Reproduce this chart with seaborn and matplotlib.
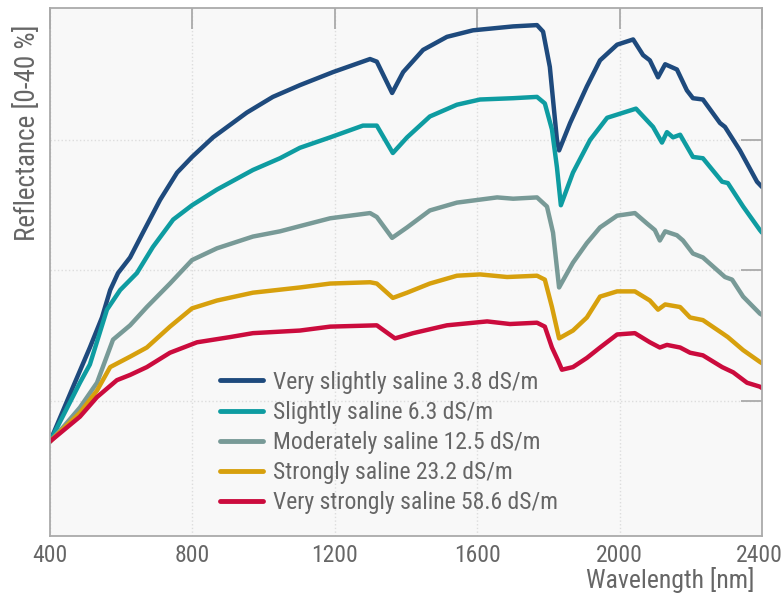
import matplotlib
matplotlib.use('Agg')
import numpy as np
import pandas as pd
import matplotlib.pyplot as plt
import matplotlib.transforms as mtransforms
from matplotlib import font_manager
import seaborn as sns

# spectra, reflectance in % vs wavelength in nm
wl_vs = [400, 465, 512, 546, 569, 591, 625, 661, 709, 757, 799, 858, 953, 1026, 1102, 1195,
         1299, 1318, 1361, 1392, 1448, 1515, 1588, 1701, 1768, 1785, 1804, 1824, 1830, 1861,
         1908, 1945, 1993, 2038, 2066, 2085, 2108, 2128, 2161, 2189, 2206, 2234, 2282, 2296,
         2338, 2386, 2400]
r_vs = [6.9, 11.1, 14.1, 16.4, 18.5, 19.8, 21.0, 22.9, 25.4, 27.5, 28.7, 30.2, 32.1, 33.3, 34.2,
        35.2, 36.2, 36.0, 33.6, 35.2, 36.9, 37.9, 38.4, 38.7, 38.8, 38.3, 35.6, 30.0, 29.2, 31.3,
        34.1, 36.1, 37.3, 37.7, 36.5, 36.1, 34.8, 35.8, 35.4, 33.8, 33.2, 33.1, 31.3, 31.0,
        29.2, 26.8, 26.4]

wl_s = [400, 484, 512, 560, 597, 644, 689, 746, 799, 869, 970, 1046, 1102, 1187, 1279, 1318,
        1363, 1403, 1467, 1543, 1608, 1701, 1768, 1790, 1810, 1824, 1835, 1869, 1917, 1965,
        2046, 2094, 2119, 2133, 2150, 2170, 2206, 2234, 2288, 2304, 2347, 2394, 2400]
r_s = [6.9, 11.4, 12.8, 17.0, 18.5, 19.8, 21.8, 23.9, 25.0, 26.2, 27.7, 28.6, 29.4, 30.2, 31.1,
       31.1, 29.0, 30.2, 31.8, 32.7, 33.1, 33.2, 33.3, 32.8, 30.8, 27.9, 25.0, 27.5, 30.0, 31.7,
       32.4, 31.0, 29.8, 30.6, 30.2, 30.4, 28.7, 28.6, 26.8, 26.7, 24.9, 23.1, 22.9]

wl_m = [400, 437, 484, 532, 577, 625, 672, 737, 799, 869, 970, 1046, 1102, 1187, 1299, 1318,
        1361, 1403, 1467, 1543, 1656, 1701, 1768, 1796, 1813, 1830, 1869, 1908, 1945, 1993,
        2043, 2077, 2099, 2113, 2128, 2161, 2178, 2206, 2234, 2296, 2316, 2347, 2394, 2400]
r_m = [6.9, 8.0, 9.5, 11.4, 14.7, 15.8, 17.2, 19.0, 20.8, 21.7, 22.6, 23.0, 23.4, 24.0, 24.4,
       24.1, 22.5, 23.3, 24.6, 25.2, 25.6, 25.5, 25.6, 24.9, 22.9, 18.7, 20.6, 22.1, 23.3, 24.2,
       24.4, 23.6, 23.1, 22.3, 23.0, 22.7, 22.3, 21.3, 21.0, 19.5, 19.3, 18.0, 16.7, 16.6]

wl_st = [400, 484, 532, 569, 625, 672, 737, 799, 869, 970, 1102, 1187, 1299, 1318, 1363, 1403,
         1467, 1543, 1608, 1684, 1768, 1790, 1810, 1830, 1869, 1908, 1945, 1993, 2043, 2085,
         2108, 2128, 2170, 2198, 2234, 2288, 2304, 2347, 2394, 2400]
r_st = [6.9, 9.1, 10.8, 12.6, 13.4, 14.1, 15.7, 17.1, 17.7, 18.3, 18.7, 19.0, 19.1, 19.0, 17.9,
        18.3, 19.0, 19.6, 19.7, 19.5, 19.6, 19.3, 17.2, 14.8, 15.4, 16.4, 18.0, 18.4, 18.4, 17.7,
        17.0, 17.4, 17.2, 16.4, 16.2, 15.2, 14.9, 13.9, 13.0, 12.9]

wl_vst = [400, 484, 532, 588, 625, 672, 737, 813, 906, 970, 1102, 1187, 1318, 1369, 1420, 1515,
          1628, 1692, 1768, 1790, 1810, 1827, 1838, 1869, 1908, 1945, 1993, 2043, 2085, 2113,
          2133, 2170, 2198, 2234, 2288, 2319, 2358, 2394, 2400]
r_vst = [6.9, 8.8, 10.3, 11.6, 12.0, 12.6, 13.7, 14.5, 14.9, 15.2, 15.4, 15.7, 15.8, 14.8, 15.2,
         15.8, 16.1, 15.9, 16.0, 15.7, 14.1, 13.1, 12.4, 12.6, 13.3, 14.1, 15.1, 15.2, 14.5, 14.1,
         14.3, 14.1, 13.7, 13.5, 12.6, 12.2, 11.4, 11.1, 11.0]

labels = ['Very slightly saline 3.8 dS/m', 'Slightly saline 6.3 dS/m',
          'Moderately saline 12.5 dS/m', 'Strongly saline 23.2 dS/m',
          'Very strongly saline 58.6 dS/m']
colors = ['#1e4a7d', '#0e9ca1', '#789a97', '#d7a00d', '#cb0b3d']


if __name__ == "__main__":
    sns.set_style('white')
    names = {f.name for f in font_manager.fontManager.ttflist}
    fam = 'Roboto Condensed' if 'Roboto Condensed' in names else 'DejaVu Sans'
    plt.rcParams['font.family'] = [fam, 'DejaVu Sans']
    txt = '#666666'
    edge = '#aaaaaa'

    frames = []
    for lab, wl, r in zip(labels, [wl_vs, wl_s, wl_m, wl_st, wl_vst], [r_vs, r_s, r_m, r_st, r_vst]):
        frames.append(pd.DataFrame({'wl': wl, 'refl': r, 'class': lab}))
    df = pd.concat(frames, ignore_index=True)

    fig = plt.figure(figsize=(7.82, 5.99), dpi=100)
    ax = fig.add_axes([50/782, 1-536/599, 712/782, 528/599])
    ax.set_facecolor('#f8f8f8')

    sns.lineplot(data=df, x='wl', y='refl', hue='class', hue_order=labels,
                 palette=dict(zip(labels, colors)), estimator=None, sort=False,
                 linewidth=3.2, ax=ax, legend=True)
    for ln in ax.get_lines():
        ln.set_solid_capstyle('round')
        ln.set_solid_joinstyle('round')

    ax.set_xlim(400, 2400)
    ax.set_ylim(-0.34, 40.11)
    ax.set_xticks([400, 800, 1200, 1600, 2000, 2400])
    ax.set_yticks([10, 20, 30])
    ax.set_yticklabels([])
    ax.grid(True, color='#dddddd', linestyle=':', linewidth=1)
    ax.tick_params(axis='both', direction='in', length=15, width=1.3, color=edge,
                   top=True, right=True, labelsize=17, labelcolor=txt, pad=6)
    for s in ax.spines.values():
        s.set_color(edge)
        s.set_linewidth(1.3)

    # last tick label sits right at the figure edge, nudge it in a little
    last = ax.get_xticklabels()[-1]
    last.set_transform(last.get_transform() +
                       mtransforms.ScaledTranslation(-3/100, 0, fig.dpi_scale_trans))

    ax.set_xlabel('Wavelength [nm]', fontsize=18.5, color=txt)
    ax.set_ylabel('Reflectance [0-40 %]', fontsize=19.5, color=txt)
    ax.xaxis.set_label_coords(0.871, -0.058)
    ax.yaxis.set_label_coords(-0.012, 0.763)

    handles, labs = ax.get_legend_handles_labels()
    leg = ax.legend(handles, labs, loc='upper left', bbox_to_anchor=(0.239, 0.313),
                    frameon=False, fontsize=17, labelspacing=0.3, handlelength=1.8,
                    handletextpad=0.45, borderpad=0, borderaxespad=0)
    for t in leg.get_texts():
        t.set_color(txt)
    for h in leg.legend_handles:
        h.set_linewidth(3.5)

    fig.savefig('out.png', dpi=100)
